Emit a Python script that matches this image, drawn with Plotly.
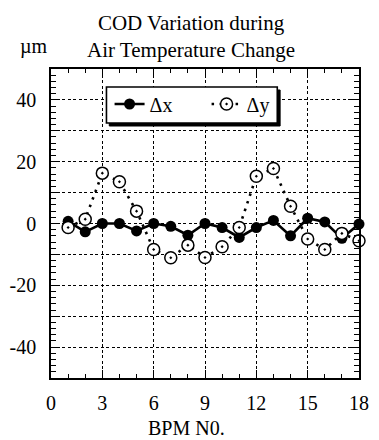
import plotly.graph_objects as go

bpm = list(range(1, 19))
dx = [0.7, -2.7, 0, 0, -2.4, 0, -0.9, -3.8, 0, -1.3, -4.5, -1.3, 1.0, -4.0, 1.7, 0.5, -4.8, -0.2]
dy = [-1.3, 1.4, 16.3, 13.5, 4.0, -8.4, -11.1, -7.0, -11.0, -7.5, -1.3, 15.3, 17.8, 5.6, -5.0, -8.4, -3.2, -5.6]

x_ticks = [0, 3, 6, 9, 12, 15, 18]
y_ticks = [-50, -40, -30, -20, -10, 0, 10, 20, 30, 40, 50]
y_labels = ["", "-40", "", "-20", "", "0", "", "20", "", "40", ""]

FONT = "Liberation Serif, Times New Roman, serif"
W, H = 379, 440
L, R, T, B = 43, 10, 69, 62
pw, ph = W - L - R, H - T - B

def px(xp):
    return (xp - L) / pw

def py(yp):
    return (H - B - yp) / ph

fig = go.Figure()
fig.add_trace(go.Scatter(
    x=bpm, y=dx, name="Δx", mode="lines+markers", cliponaxis=False,
    line=dict(color="black", width=2.6),
    marker=dict(symbol="circle", size=11, color="black"),
))
fig.add_trace(go.Scatter(
    x=bpm, y=dy, name="Δy", mode="lines+markers", cliponaxis=False,
    line=dict(color="black", width=2.6, dash="2.5px,5.5px"),
    marker=dict(symbol="circle-dot", size=12, color="white",
                line=dict(color="black", width=1.5)),
))

axis_common = dict(
    showline=True, linecolor="black", linewidth=1.6, mirror="allticks",
    ticks="inside", tickcolor="black", ticklen=8, tickwidth=1.2,
    showgrid=True, gridcolor="black", gridwidth=1, griddash="3px,2.5px",
    zeroline=False,
    tickfont=dict(family=FONT, size=20, color="black"),
)

fig.update_xaxes(
    range=[0, 18], tickvals=x_ticks, ticktext=[str(v) for v in x_ticks],
    minor=dict(dtick=1, ticks="inside", ticklen=4, tickcolor="black", tickwidth=1.2, showgrid=False),
    ticklabelstandoff=6,
    **axis_common,
)
fig.update_yaxes(
    range=[-50, 50], tickvals=y_ticks, ticktext=y_labels,
    minor=dict(dtick=2, ticks="inside", ticklen=5, tickcolor="black", tickwidth=1.2, showgrid=False),
    ticklabelstandoff=9,
    **axis_common,
)

# legend box with shadow
bx0, bx1, by0, by1 = 101.7, 282.5, 87, 123
fig.add_shape(type="rect", xref="paper", yref="paper",
              x0=px(bx0 + 3), x1=px(bx1 + 3), y0=py(by1 + 3), y1=py(by0 + 3),
              fillcolor="black", line=dict(color="black", width=1), layer="above")
fig.add_shape(type="rect", xref="paper", yref="paper",
              x0=px(bx0), x1=px(bx1), y0=py(by1), y1=py(by0),
              fillcolor="white", line=dict(color="black", width=1.6), layer="above")

fig.update_layout(
    width=W, height=H, autosize=False,
    margin=dict(l=L, r=R, t=T, b=B, pad=0),
    paper_bgcolor="white", plot_bgcolor="white",
    font=dict(family=FONT, color="black"),
    showlegend=True,
    legend=dict(orientation="h", x=px(105), y=py(104), xanchor="left", yanchor="middle",
                xref="paper", yref="paper",
                bgcolor="rgba(0,0,0,0)", borderwidth=0,
                entrywidth=52, entrywidthmode="pixels", itemwidth=30,
                font=dict(family=FONT, size=20, color="black")),
    annotations=[
        dict(text="COD Variation during<br>Air Temperature Change",
             x=px(191), y=py(9), xref="paper", yref="paper",
             xanchor="center", yanchor="top", showarrow=False,
             font=dict(family=FONT, size=21, color="black")),
        dict(text="µm", x=px(8), y=py(60), xref="paper", yref="paper",
             xanchor="left", yanchor="bottom", showarrow=False,
             font=dict(family=FONT, size=20, color="black")),
        dict(text="BPM N0.", x=px(186), y=py(428), xref="paper", yref="paper",
             xanchor="center", yanchor="middle", showarrow=False,
             font=dict(family=FONT, size=20, color="black")),
    ],
)

fig.write_html("out.html")
